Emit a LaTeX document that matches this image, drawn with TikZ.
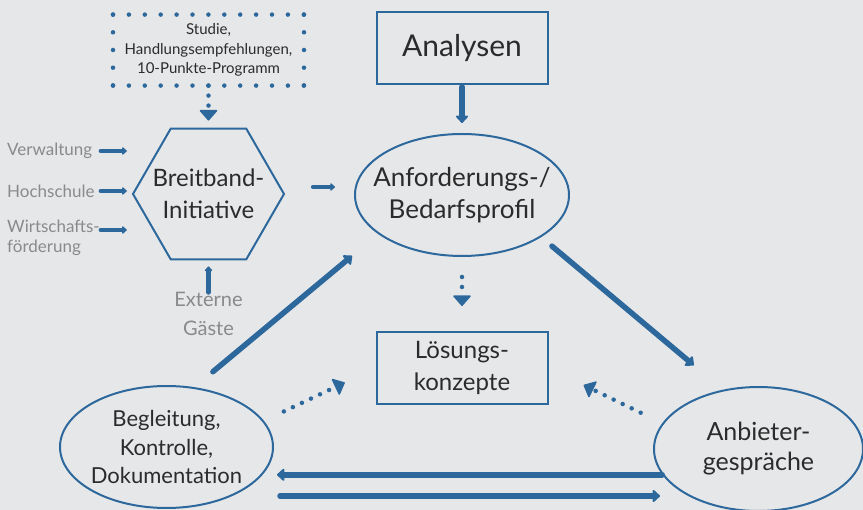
\documentclass[tikz,border=0pt]{standalone}
\usepackage{fontspec}
\setmainfont{Lato}
\usepackage{xcolor}
\usepackage{tikz}
\usetikzlibrary{
  positioning,
  arrows.meta,
  shapes.geometric,
  calc
}
\definecolor{bggray}{HTML}{E6E7E9}
\definecolor{iblue}{HTML}{2D689C}
\definecolor{itext}{HTML}{2B2B2B}
\definecolor{igray}{HTML}{8A8A8A}

\begin{document}
\begin{tikzpicture}[
  x=1pt, y=-1pt,
  font=\fontsize{24}{32}\selectfont,
  text=itext,
  box/.style={
    rectangle,
    draw=iblue,
    line width=2pt,
    minimum width=171pt,
    minimum height=72pt,
    align=center
  },
  oval/.style={
    ellipse,
    draw=iblue,
    line width=2pt,
    inner xsep=-14pt,
    inner ysep=0pt,
    align=center
  },
  hexa/.style={
    regular polygon,
    regular polygon sides=6,
    draw=iblue,
    line width=2pt,
    minimum size=151pt,
    inner sep=0pt
  },
  dotbox/.style={
    rectangle,
    outer sep=0pt,
    minimum width=191pt,
    minimum height=71pt,
    align=center,
    font=\fontsize{15}{19.5}\selectfont
  },
  side/.style={
    text=igray,
    inner sep=0pt,
    align=left,
    font=\fontsize{17}{20}\selectfont
  },
  bigarrow/.style={
    -{Triangle[round,length=8pt,width=14pt]},
    line width=5.5pt,
    line cap=round,
    draw=iblue
  },
  stub/.style={
    -{Triangle[round,length=5pt,width=8.5pt]},
    line width=4.5pt,
    line cap=round,
    draw=iblue
  },
  dotarrow/.style={
    -{Triangle[round,line width=1.5pt,length=11pt,width=19pt]},
    line width=4.5pt,
    line cap=round,
    dash pattern=on 0pt off 10pt,
    draw=iblue
  },
  dotrow/.style={
    line width=4.5pt,
    line cap=round,
    draw=iblue
  }
]

\fill[bggray] (0,0) rectangle (863,510);
\useasboundingbox (0,0) rectangle (863,510);

% Initiative & Inputs
\node[hexa, label={[align=center]center:{Breitband-\\Initiative}}] (init) at (208.5,194) {};
\node[dotbox, above=42pt of init] (src) {Studie,\\Handlungsempfehlungen,\\10-Punkte-Programm};
\node[side, anchor=west] (verw) at (7,151) {Verwaltung};
\node[side, anchor=west] (hoch) at (7,191) {Hochschule};
\node[side, anchor=west] (wifoe) at (7,238) {Wirtschafts-\\förderung};
\node[side, align=center, below=32pt of init, font=\fontsize{20}{29}\selectfont] (gaeste) {Externe\\Gäste};

% Profile & Concepts
\node[oval, minimum width=214pt, minimum height=122pt, font=\fontsize{26}{32}\selectfont] (anf) at (462,195) {Anforderungs-/\\Bedarfsprofil};
\node[box, above=48pt of anf] (anly) {\fontsize{30}{36}\selectfont Analysen};
\node[box, below=74pt of anf] (loes) {Lösungs-\\konzepte};

% Follow-up
\node[oval, minimum width=213pt, minimum height=122pt, font=\fontsize{22}{28.5}\selectfont] (begl) at (166.5,447) {Begleitung,\\Kontrolle,\\Dokumentation};
\node[oval, minimum width=209pt, minimum height=124pt, font=\fontsize{25}{30}\selectfont] (anbi) at (758.5,449) {Anbieter-\\gespräche};

% Dotted frame
\draw[dotrow, dash pattern=on 0pt off 15.9pt] (src.north west) -- (src.north east) (src.south west) -- (src.south east);
\draw[dotrow, dash pattern=on 0pt off 17.7pt] (src.north west) -- (src.south west) (src.north east) -- (src.south east);

% Transitions
\draw[dotarrow, shorten >=7pt] (src) -- (init);
\draw[stub, shorten >=5pt] ($(verw -| init.west)+(-31,0)$) -- (verw -| init.west);
\draw[stub, shorten >=5pt] ($(hoch -| init.west)+(-31,0)$) -- (hoch -| init.west);
\draw[stub, shorten >=5pt] ($(wifoe -| init.west)+(-31,-8)$) -- ($(wifoe -| init.west)+(0,-8)$);
\draw[stub, shorten >=6pt] (gaeste) -- (init);
\draw[stub, shorten <=28pt, shorten >=19pt] ($(init.east)+(0,-7)$) -- ($(init.east -| anf.west)+(0,-7)$);

\draw[bigarrow, shorten <=2pt, shorten >=10pt] (anly) -- (anf);
\draw[dotarrow, shorten <=20pt, shorten >=25pt] (anf) -- (loes);
\draw[bigarrow, shorten <=24pt, shorten >=34pt] (begl.65) -- (anf.205);
\draw[bigarrow, shorten <=14pt, shorten >=38pt] (anf.332) -- (anbi.121);

\draw[dotarrow, shorten <=22pt, shorten >=34pt] (begl.15) -- (loes.west);
\draw[dotarrow, shorten <=24pt, shorten >=39pt] (anbi.165) -- (loes.east);

\draw[bigarrow, shorten >=3pt] (anbi.195) -- (anbi.195 -| begl.east);
\draw[bigarrow, shorten <=6pt, shorten >=-7pt] ($(begl.east)+(0,49)$) -- ($(begl.east -| anbi.west)+(0,49)$);

\end{tikzpicture}
\end{document}
